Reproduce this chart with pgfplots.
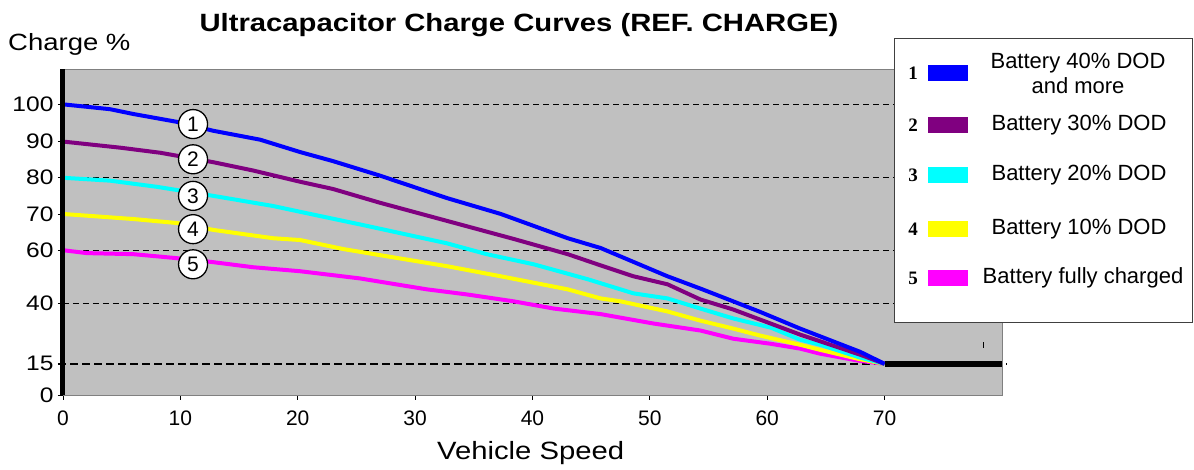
\documentclass[border=0pt]{standalone}
\usepackage{pgfplots}
\pgfplotsset{compat=1.18}
\usepackage{fontspec}
\setmainfont{Liberation Sans}
\newfontfamily\widefont{Liberation Sans}[FakeStretch=1.17]
\newfontfamily\numserif{Liberation Serif}

\definecolor{plotgray}{RGB}{192,192,192}
\definecolor{framegray}{RGB}{128,128,128}
\definecolor{cOne}{RGB}{0,0,255}
\definecolor{cTwo}{RGB}{128,0,128}
\definecolor{cThree}{RGB}{0,255,255}
\definecolor{cFour}{RGB}{255,255,0}
\definecolor{cFive}{RGB}{255,0,255}

\tikzset{curvenum/.style={circle, draw=black, fill=white, line width=1.3pt,
  minimum size=29pt, inner sep=0pt, font=\fontsize{21}{24}\selectfont}}

\begin{document}
\begin{tikzpicture}[x=1pt,y=1pt]
\begin{axis}[
    scale only axis,
    width=939pt, height=326pt,
    at={(0,0)}, anchor=south west,
    xmin=0, xmax=80,
    ymin=0, ymax=109.5,
    % the value axis of the original is piecewise linear
    y coord trafo/.code={\pgfmathparse{(#1<15) ? (#1*31/15) : ((#1<40) ? (31+(#1-15)*2.4) : ((#1<60) ? (91+(#1-40)*2.65) : ((#1<90) ? (144+(#1-60)*3.6) : (252+(#1-90)*3.7))))}},
    axis background/.style={fill=plotgray},
    axis line style={draw=framegray, line width=0.9pt},
    xtick={0,10,...,70},
    ytick={0,15,40,60,70,80,90,100},
    yticklabels={0,15,40,60,70,80,90,100},
    xtick pos=lower, ytick pos=left,
    tick align=outside,
    major tick length=5pt,
    tick style={black, line width=0.8pt},
    xticklabel style={font=\fontsize{21}{24}\selectfont, yshift=-7pt},
    yticklabel style={font=\widefont\fontsize{21}{24}\selectfont, xshift=-1pt},
    /pgf/number format/assume math mode=true,
    clip=false,
]
% dashed reference lines
\addplot[black, line width=1.2pt, dash pattern=on 6pt off 4pt, forget plot] coordinates {(0,100) (80,100)};
\addplot[black, line width=1.2pt, dash pattern=on 6pt off 4pt, forget plot] coordinates {(0,80) (80,80)};
\addplot[black, line width=1.2pt, dash pattern=on 6pt off 4pt, forget plot] coordinates {(0,60) (80,60)};
\addplot[black, line width=1.2pt, dash pattern=on 6pt off 4pt, forget plot] coordinates {(0,40) (80,40)};
\addplot[black, line width=1.8pt, dash pattern=on 8pt off 4pt, forget plot] coordinates {(-0.4,15) (80.4,15)};

% 5: battery fully charged
\addplot[cFive, line width=4pt] coordinates {
 (0,60) (2.0,58.9) (6.0,58.5) (9.7,57) (12.8,55.5) (16.2,53.6) (20.2,52.1)
 (25.3,49.4) (31.0,45.3) (34.4,43.4) (38.4,40.8) (41.8,37.9) (45.8,35.6)
 (50.3,31.7) (54.3,28.8) (57.1,25.4) (60.3,23.3) (62.8,21.3) (64.5,19.2)
 (67.9,16.2) (70,15)};
% 4: battery 10% DOD
\addplot[cFour, line width=4pt] coordinates {
 (0,70) (6.0,68.6) (9.7,67.5) (12.8,65.6) (17.9,63.3) (20.2,62.8) (23.9,60.3)
 (27.6,57.7) (32.7,54) (37.3,50.2) (43.0,45.3) (45.8,41.9) (47.5,40.8)
 (51.5,36.7) (54.3,32.9) (57.1,29.6) (59.4,26.7) (62.8,22.9) (64.5,20.8)
 (67.9,16.9) (70,15)};
% 3: battery 20% DOD
\addplot[cThree, line width=4pt] coordinates {
 (0,80) (4.0,79.2) (8.0,77.5) (12.8,75) (17.9,72.2) (20.2,70.6) (25.9,66.7)
 (32.7,61.9) (36.1,58.5) (40.1,54.7) (44.7,49.1) (48.6,43.8) (51.5,41.9)
 (54.3,37.9) (57.1,33.8) (60.3,30) (62.8,25) (64.5,22.9) (67.9,17.6) (70,15)};
% 2: battery 30% DOD
\addplot[cTwo, line width=4pt] coordinates {
 (0,90) (4.9,88.3) (8.3,86.9) (12.8,84.3) (16.2,82) (20.2,78.9) (23.0,76.9)
 (27.0,73.1) (32.7,68.1) (38.4,63.1) (43.0,58.5) (45.8,54.3) (48.6,50.2)
 (51.5,47.2) (54.3,41.5) (57.1,37.5) (62.8,27.1) (67.9,18.8) (70,15)};
% 1: battery 40% DOD and more
\addplot[cOne, line width=4pt] coordinates {
 (0,100) (4.0,98.7) (6.0,97.4) (9.7,95.3) (12.8,92.9) (16.8,90.5) (20.2,87.1)
 (23.0,84.6) (27.0,80.6) (32.7,74.4) (37.3,70) (43.0,63.3) (45.8,60.6)
 (51.5,50.2) (54.3,45.6) (57.1,40.8) (59.4,36.5) (62.8,29.6) (67.9,20) (70,15)};

% flat part after 70
\addplot[black, line width=6pt, forget plot] coordinates {(70,15) (80,15)};
\draw[black, line width=0.8pt] (axis cs:78.4,21.7) -- (axis cs:78.4,24.2);

% thick value axis
\draw[black, line width=5pt] (axis description cs:0,0) -- (axis description cs:0,1);

% circled curve numbers
\node[curvenum] at (axis cs:11.08,94.7) {1};
\node[curvenum] at (axis cs:11.08,85.1) {2};
\node[curvenum] at (axis cs:11.08,75) {3};
\node[curvenum] at (axis cs:11.08,65.8) {4};
\node[curvenum] at (axis cs:11.08,54.7) {5};

\node[anchor=base, font=\widefont\bfseries\fontsize{25}{28}\selectfont]
  at (axis description cs:0.4856,1.114) {Ultracapacitor Charge Curves (REF. CHARGE)};
\node[anchor=base west, inner sep=0pt, font=\widefont\fontsize{23.5}{26}\selectfont]
  at (axis description cs:-0.0586,1.058) {Charge \%};
\node[anchor=base, font=\widefont\fontsize{25}{28}\selectfont]
  at (axis description cs:0.498,-0.199) {Vehicle Speed};
\end{axis}

% legend
\draw[fill=white, draw=black!75, line width=0.9pt] (831,73) rectangle (1129,357);
\foreach \n/\c/\yy in {1/cOne/322, 2/cTwo/270, 3/cThree/220, 4/cFour/166, 5/cFive/117} {
  \node[font=\numserif\bfseries\fontsize{19}{22}\selectfont] at (850,\yy) {\n};
  \fill[\c] (865,\yy-8) rectangle (905,\yy+8);
}
\begin{scope}[every node/.style={font=\fontsize{22}{25}\selectfont, align=center}]
\node at (1015,322) {Battery 40\% DOD\\and more};
\node at (1016,270) {Battery 30\% DOD};
\node at (1016,220) {Battery 20\% DOD};
\node at (1016,166) {Battery 10\% DOD};
\node at (1020,117) {Battery fully charged};
\end{scope}

\pgfresetboundingbox
\path[use as bounding box] (-63,-75) rectangle (1131,395);
\end{tikzpicture}
\end{document}
